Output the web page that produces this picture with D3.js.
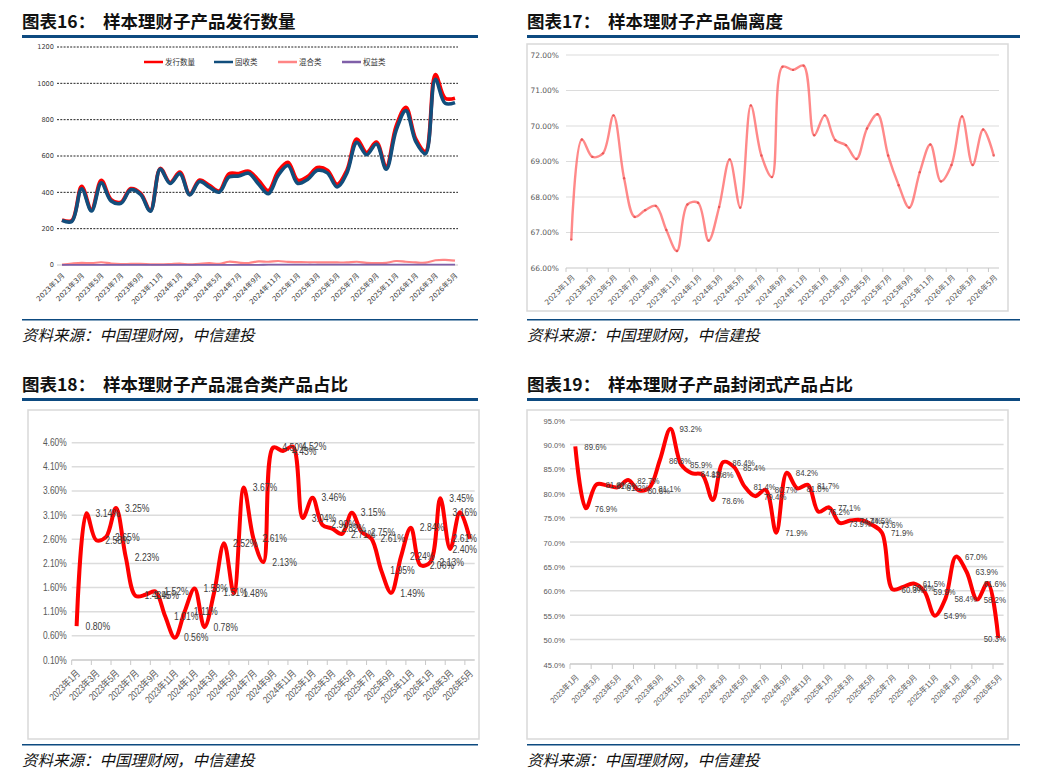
<!DOCTYPE html>
<meta charset="utf-8">
<style>
body { margin: 0; background: #fff; }
.hd { font-family: "Noto Sans CJK SC", sans-serif; font-weight: bold; font-size: 17.5px; fill: #111; }
.src { font-family: "Noto Sans CJK SC", sans-serif; font-style: italic; font-size: 15.5px; fill: #111; }
.t16 { font-family: "DejaVu Sans", "Noto Sans CJK SC", sans-serif; font-size: 6.6px; fill: #3a3a3a; }
.x16 { font-family: "DejaVu Sans", "Noto Sans CJK SC", sans-serif; font-size: 7px; fill: #3a3a3a; }
.lg16 { font-family: "Noto Sans CJK SC", sans-serif; font-size: 7.5px; fill: #333; }
.t17 { font-family: "DejaVu Sans", "Noto Sans CJK SC", sans-serif; font-size: 7.5px; fill: #595959; }
.t18 { font-family: "Liberation Sans", "Noto Sans CJK SC", sans-serif; font-size: 10.5px; fill: #595959; }
.x18 { font-family: "Liberation Sans", "Noto Sans CJK SC", sans-serif; font-size: 10px; fill: #595959; }
.d18 { font-family: "Liberation Sans", sans-serif; font-size: 10.8px; fill: #404040; }
.t19 { font-family: "Liberation Sans", "Noto Sans CJK SC", sans-serif; font-size: 8px; fill: #595959; }
.d19 { font-family: "Liberation Sans", sans-serif; font-size: 8.3px; fill: #404040; }
</style>
<svg width="1041" height="779"></svg>
<script src="https://cdn.jsdelivr.net/npm/d3@7"></script>
<script>

// categories: 2023-01 .. 2026-05
var months = ["2023年1月","2023年2月","2023年3月","2023年4月","2023年5月","2023年6月","2023年7月","2023年8月","2023年9月","2023年10月","2023年11月","2023年12月",
  "2024年1月","2024年2月","2024年3月","2024年4月","2024年5月","2024年6月","2024年7月","2024年8月","2024年9月","2024年10月","2024年11月","2024年12月",
  "2025年1月","2025年2月","2025年3月","2025年4月","2025年5月","2025年6月","2025年7月","2025年8月","2025年9月","2025年10月","2025年11月","2025年12月",
  "2026年1月","2026年2月","2026年3月","2026年4月","2026年5月"];

// 图表16 发行数量 by type
var issueTotal  = [248,245,432,305,466,360,345,420,394,300,531,454,511,389,467,438,407,502,503,516,466,410,515,565,466,486,536,521,444,521,693,619,676,539,762,868,694,625,1048,918,918];
var fixedIncome = [246,240,420,297,452,352,340,414,388,296,528,449,503,386,460,428,401,484,490,505,446,392,493,548,449,471,521,507,430,507,675,607,666,527,740,850,680,612,1022,890,894];
var mixedCount  = [2,8,12,10,15,8,5,6,6,4,3,5,8,3,7,10,6,18,13,11,20,18,22,17,16,15,15,14,14,14,18,12,10,12,22,18,14,13,26,28,24];
var equityCount = [1,1,1,1,1,1,1,1,1,1,1,1,1,1,1,1,1,1,1,1,1,2,2,2,2,2,2,2,2,2,2,2,2,2,2,2,2,2,2,2,2];
var names16 = ["发行数量","固收类","混合类","权益类"];
var yTicks16 = [0,200,400,600,800,1000,1200];

// 图表17 偏离度 (%)
var deviation = [66.8,69.62,69.13,69.23,70.3,68.53,67.44,67.63,67.75,67.07,66.48,67.79,67.84,66.77,67.72,69.06,67.7,70.58,69.17,68.56,71.67,71.58,71.7,69.74,70.3,69.6,69.46,69.07,69.93,70.33,69.17,68.33,67.7,68.7,69.48,68.44,68.9,70.27,68.9,69.9,69.17];
var yTicks17 = [66,67,68,69,70,71,72];

// 图表18 混合类产品占比 (%)
var mixedShare = [0.80,3.14,2.58,2.65,3.25,2.23,1.43,1.45,1.52,1.01,0.56,1.11,1.58,0.78,1.51,2.52,1.48,3.67,2.61,2.13,4.50,4.43,4.52,3.04,3.46,2.90,2.82,2.71,3.15,2.75,2.61,1.95,1.49,2.24,2.84,2.06,2.13,3.45,2.40,3.16,2.61];
var yTicks18 = [0.1,0.6,1.1,1.6,2.1,2.6,3.1,3.6,4.1,4.6];

// 图表19 封闭式产品占比 (%)
var closedShare = [89.6,76.9,81.8,81.6,81.2,82.7,80.6,81.1,86.8,93.2,85.9,84.1,83.8,78.6,86.4,85.4,81.4,79.4,80.7,71.9,84.2,81.0,81.7,76.2,77.1,73.9,74.4,74.5,73.6,71.9,60.3,60.8,61.5,59.9,54.9,58.4,67.0,63.9,58.2,61.6,50.3];
var yTicks19 = [45,50,55,60,65,70,75,80,85,90,95];

var sourceText = "资料来源：中国理财网，中信建投";

var svg = d3.select("svg");
var navy = "#0d4a80";

function header(x, y, w, num, title) {
  svg.append("text").attr("class", "hd").attr("x", x).attr("y", y).text(num);
  svg.append("text").attr("class", "hd").attr("x", x + 81).attr("y", y).text(title);
  svg.append("rect").attr("x", x).attr("y", y + 7).attr("width", w).attr("height", 3).attr("fill", navy);
}
function footer(x, y, w) {
  svg.append("rect").attr("x", x).attr("y", y).attr("width", w).attr("height", 1.5).attr("fill", navy);
  svg.append("text").attr("class", "src").attr("x", x).attr("y", y + 22).text(sourceText);
}
function frame(x0, y0, x1, y1) {
  svg.append("rect").attr("x", x0).attr("y", y0).attr("width", x1 - x0).attr("height", y1 - y0)
    .attr("fill", "none").attr("stroke", "#d9d9d9").attr("stroke-width", 1.5);
}

header(22, 28, 456, "图表16：", "样本理财子产品发行数量");
header(527, 28, 493, "图表17：", "样本理财子产品偏离度");
header(22, 391, 456, "图表18：", "样本理财子产品混合类产品占比");
header(527, 391, 493, "图表19：", "样本理财子产品封闭式产品占比");
footer(22, 319, 456);
footer(527, 319, 493);
footer(22, 744, 456);
footer(527, 744, 493);

var smooth = d3.curveCatmullRom.alpha(0.5);

// ---------- 图表16 ----------
(function () {
  var g = svg.append("g");
  var x = d3.scalePoint().domain(months).range([62, 455]);
  var y = d3.scaleLinear().domain([0, 1200]).range([265, 47]);

  yTicks16.forEach(function (t) {
    if (t > 0) {
      g.append("line").attr("x1", 57).attr("x2", 458).attr("y1", y(t)).attr("y2", y(t))
        .attr("stroke", "#222").attr("stroke-width", 1).attr("stroke-dasharray", "2,1.3");
    }
    g.append("text").attr("class", "t16").attr("x", 54).attr("y", y(t) + 2.3).attr("text-anchor", "end").text(t);
  });
  g.append("line").attr("x1", 57).attr("x2", 458).attr("y1", y(0)).attr("y2", y(0))
    .attr("stroke", "#c8c8c8").attr("stroke-width", 1);

  months.forEach(function (m, i) {
    if (i % 2 === 0) {
      g.append("text").attr("class", "x16").attr("text-anchor", "end")
        .attr("transform", "translate(" + (x(m) + 3) + "," + 276 + ") rotate(-45)").text(m);
    }
  });

  var series = [
    { v: mixedCount, c: "#ff8585", w: 2.2 },
    { v: equityCount, c: "#7f5fa8", w: 1.8 },
    { v: issueTotal, c: "#ff0000", w: 3.8 },
    { v: fixedIncome, c: "#124e7c", w: 3.6 }
  ];
  var line = d3.line().x(function (d, i) { return x(months[i]); }).y(function (d) { return y(d); }).curve(smooth);
  series.forEach(function (s) {
    g.append("path").datum(s.v).attr("d", line).attr("fill", "none")
      .attr("stroke", s.c).attr("stroke-width", s.w).attr("stroke-linejoin", "round");
  });

  var lg = [
    { n: names16[0], c: "#ff0000", x: 144 },
    { n: names16[1], c: "#124e7c", x: 214 },
    { n: names16[2], c: "#ff8585", x: 278 },
    { n: names16[3], c: "#7f5fa8", x: 342 }
  ];
  lg.forEach(function (d) {
    g.append("line").attr("x1", d.x).attr("x2", d.x + 19).attr("y1", 62).attr("y2", 62)
      .attr("stroke", d.c).attr("stroke-width", 2.5);
    g.append("text").attr("class", "lg16").attr("x", d.x + 21).attr("y", 64.7).text(d.n);
  });
})();

// ---------- 图表17 ----------
(function () {
  var g = svg.append("g");
  frame(527, 44, 1008, 311);
  var x = d3.scaleBand().domain(months).range([566, 999]);
  var y = d3.scaleLinear().domain([66, 72]).range([268, 55]);

  yTicks17.forEach(function (t) {
    g.append("line").attr("x1", 566).attr("x2", 999).attr("y1", y(t)).attr("y2", y(t))
      .attr("stroke", t === 66 ? "#c8c8c8" : "#dcdcdc").attr("stroke-width", 1.2);
    g.append("text").attr("class", "t17").attr("x", 559).attr("y", y(t) + 2.6).attr("text-anchor", "end")
      .text(t.toFixed(2) + "%");
  });
  for (var k = 0; k <= months.length; k += 2) {
    var tx = 566 + k * x.step();
    g.append("line").attr("x1", tx).attr("x2", tx).attr("y1", y(66)).attr("y2", y(66) + 4)
      .attr("stroke", "#c8c8c8").attr("stroke-width", 1);
  }
  months.forEach(function (m, i) {
    if (i % 2 === 0) {
      g.append("text").attr("class", "t17").attr("text-anchor", "end")
        .attr("transform", "translate(" + (x(m) + x.bandwidth() / 2 + 4) + "," + 278 + ") rotate(-45)").text(m);
    }
  });

  var cx = function (i) { return x(months[i]) + x.bandwidth() / 2; };
  var line = d3.line().x(function (d, i) { return cx(i); }).y(function (d) { return y(d); }).curve(smooth);
  g.append("path").datum(deviation).attr("d", line).attr("fill", "none")
    .attr("stroke", "#ff6b6b").attr("stroke-opacity", 0.8).attr("stroke-width", 2.4);
  g.selectAll("circle").data(deviation).enter().append("circle")
    .attr("cx", function (d, i) { return cx(i); }).attr("cy", function (d) { return y(d); })
    .attr("r", 1.2).attr("fill", "#e34b4b").attr("opacity", 0.8);
})();

// helper for 18 / 19; sx squeezes text horizontally (narrow face)
function shareChart(opt) {
  var g = svg.append("g");
  var sx = opt.sx;
  frame(opt.fx0, opt.fy0, opt.fx1, opt.fy1);
  var x = d3.scaleBand().domain(months).range([opt.x0, opt.x1]);
  var y = d3.scaleLinear().domain(opt.dom).range([opt.yb, opt.yt]);

  opt.ticks.forEach(function (t, j) {
    g.append("line").attr("x1", opt.x0).attr("x2", opt.x1).attr("y1", y(t)).attr("y2", y(t))
      .attr("stroke", j === 0 ? "#c8c8c8" : "#dcdcdc").attr("stroke-width", 1.5);
    g.append("text").attr("class", opt.tcls).attr("text-anchor", "end")
      .attr("transform", "translate(" + (opt.x0 - 5) + "," + (y(t) + 3.5) + ") scale(" + sx + ",1)")
      .text(opt.fmt(t) + "%");
  });
  for (var k = 0; k <= months.length; k += 2) {
    var tx = opt.x0 + k * x.step();
    g.append("line").attr("x1", tx).attr("x2", tx).attr("y1", opt.yb).attr("y2", opt.yb + 5)
      .attr("stroke", "#c8c8c8").attr("stroke-width", 1);
  }
  months.forEach(function (m, i) {
    if (i % 2 === 0) {
      g.append("text").attr("class", opt.xcls).attr("text-anchor", "end")
        .attr("transform", "translate(" + (x(m) + x.bandwidth() / 2 + 4) + "," + (opt.yb + 14) + ") rotate(-45) scale(" + sx + ",1)")
        .text(m);
    }
  });

  var cx = function (i) { return x(months[i]) + x.bandwidth() / 2; };
  var line = d3.line().x(function (d, i) { return cx(i); }).y(function (d) { return y(d); }).curve(smooth);
  g.append("path").datum(opt.data).attr("d", line).attr("fill", "none")
    .attr("stroke", "#ff0000").attr("stroke-width", 4).attr("stroke-linejoin", "round");

  opt.data.forEach(function (v, i) {
    var t = g.append("text").attr("class", opt.dcls).text(opt.fmt(v) + "%");
    var w = t.node().getComputedTextLength() * sx;
    var lx = Math.min(cx(i) + 9, opt.fx1 - 2 - w);
    t.attr("transform", "translate(" + lx + "," + (y(v) + 3.7) + ") scale(" + sx + ",1)");
  });
}

shareChart({
  fx0: 28, fy0: 410, fx1: 479, fy1: 739,
  x0: 71.7, x1: 474.7, yb: 660, yt: 442.7,
  dom: [0.1, 4.6], ticks: yTicks18, data: mixedShare, sx: 0.8,
  fmt: d3.format(".2f"), tcls: "t18", xcls: "x18", dcls: "d18"
});

shareChart({
  fx0: 527, fy0: 410, fx1: 1008, fy1: 739,
  x0: 570, x1: 1003.6, yb: 664, yt: 420,
  dom: [45, 95], ticks: yTicks19, data: closedShare, sx: 0.95,
  fmt: d3.format(".1f"), tcls: "t19", xcls: "t19", dcls: "d19"
});

</script>
